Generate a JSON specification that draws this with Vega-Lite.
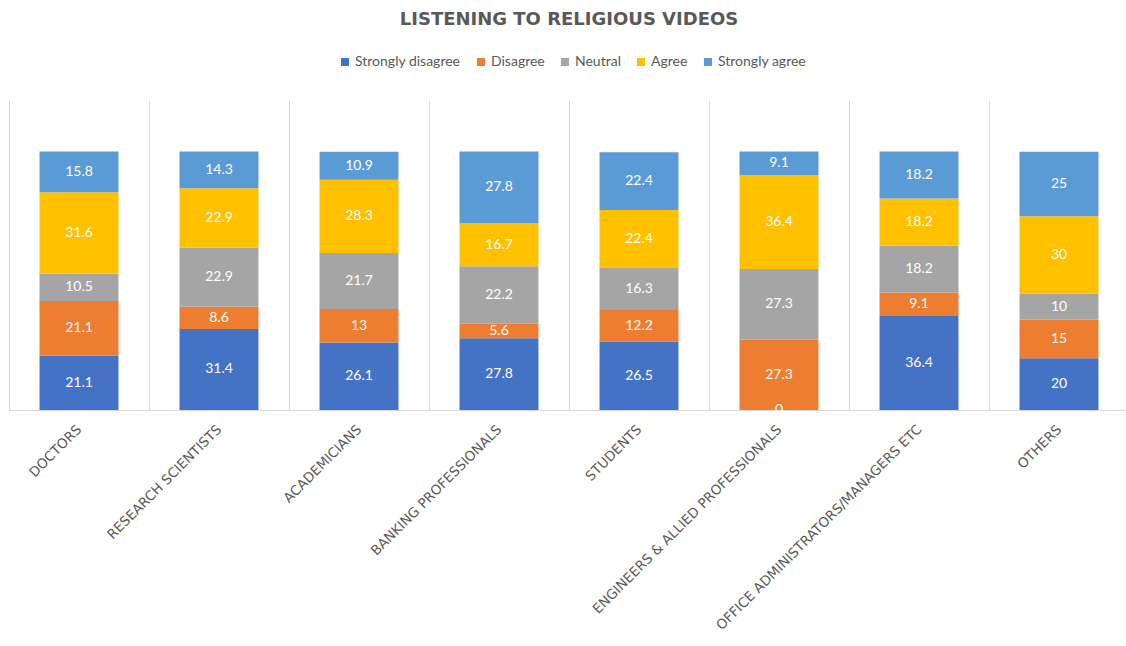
{
  "$schema": "https://vega.github.io/schema/vega-lite/v6.json",
  "autosize": {"type": "none"},
  "width": 1120,
  "height": 310,
  "padding": {"left": 9, "top": 100, "right": 0, "bottom": 236},
  "background": "white",
  "title": {
    "text": "LISTENING TO RELIGIOUS VIDEOS",
    "anchor": "middle",
    "frame": "group",
    "font": "DejaVu Sans",
    "fontSize": 18,
    "fontWeight": "bold",
    "color": "#595959",
    "offset": 26
  },
  "data": {
    "values": [
      {"group": "Doctors", "response": "Strongly disagree", "code": 1, "value": 21.1},
      {"group": "Doctors", "response": "Disagree", "code": 2, "value": 21.1},
      {"group": "Doctors", "response": "Neutral", "code": 3, "value": 10.5},
      {"group": "Doctors", "response": "Agree", "code": 4, "value": 31.6},
      {"group": "Doctors", "response": "Strongly agree", "code": 5, "value": 15.8},
      {"group": "Research Scientists", "response": "Strongly disagree", "code": 1, "value": 31.4},
      {"group": "Research Scientists", "response": "Disagree", "code": 2, "value": 8.6},
      {"group": "Research Scientists", "response": "Neutral", "code": 3, "value": 22.9},
      {"group": "Research Scientists", "response": "Agree", "code": 4, "value": 22.9},
      {"group": "Research Scientists", "response": "Strongly agree", "code": 5, "value": 14.3},
      {"group": "Academicians", "response": "Strongly disagree", "code": 1, "value": 26.1},
      {"group": "Academicians", "response": "Disagree", "code": 2, "value": 13},
      {"group": "Academicians", "response": "Neutral", "code": 3, "value": 21.7},
      {"group": "Academicians", "response": "Agree", "code": 4, "value": 28.3},
      {"group": "Academicians", "response": "Strongly agree", "code": 5, "value": 10.9},
      {"group": "Banking Professionals", "response": "Strongly disagree", "code": 1, "value": 27.8},
      {"group": "Banking Professionals", "response": "Disagree", "code": 2, "value": 5.6},
      {"group": "Banking Professionals", "response": "Neutral", "code": 3, "value": 22.2},
      {"group": "Banking Professionals", "response": "Agree", "code": 4, "value": 16.7},
      {"group": "Banking Professionals", "response": "Strongly agree", "code": 5, "value": 27.8},
      {"group": "Students", "response": "Strongly disagree", "code": 1, "value": 26.5},
      {"group": "Students", "response": "Disagree", "code": 2, "value": 12.2},
      {"group": "Students", "response": "Neutral", "code": 3, "value": 16.3},
      {"group": "Students", "response": "Agree", "code": 4, "value": 22.4},
      {"group": "Students", "response": "Strongly agree", "code": 5, "value": 22.4},
      {"group": "Engineers & Allied Professionals", "response": "Strongly disagree", "code": 1, "value": 0},
      {"group": "Engineers & Allied Professionals", "response": "Disagree", "code": 2, "value": 27.3},
      {"group": "Engineers & Allied Professionals", "response": "Neutral", "code": 3, "value": 27.3},
      {"group": "Engineers & Allied Professionals", "response": "Agree", "code": 4, "value": 36.4},
      {"group": "Engineers & Allied Professionals", "response": "Strongly agree", "code": 5, "value": 9.1},
      {"group": "Office Administrators/Managers  Etc", "response": "Strongly disagree", "code": 1, "value": 36.4},
      {"group": "Office Administrators/Managers  Etc", "response": "Disagree", "code": 2, "value": 9.1},
      {"group": "Office Administrators/Managers  Etc", "response": "Neutral", "code": 3, "value": 18.2},
      {"group": "Office Administrators/Managers  Etc", "response": "Agree", "code": 4, "value": 18.2},
      {"group": "Office Administrators/Managers  Etc", "response": "Strongly agree", "code": 5, "value": 18.2},
      {"group": "Others", "response": "Strongly disagree", "code": 1, "value": 20},
      {"group": "Others", "response": "Disagree", "code": 2, "value": 15},
      {"group": "Others", "response": "Neutral", "code": 3, "value": 10},
      {"group": "Others", "response": "Agree", "code": 4, "value": 30},
      {"group": "Others", "response": "Strongly agree", "code": 5, "value": 25}
    ]
  },
  "encoding": {
    "x": {
      "field": "group",
      "type": "nominal",
      "sort": null,
      "scale": {"paddingInner": 0, "paddingOuter": 0},
      "axis": {
        "title": null,
        "labelAngle": -45,
        "labelAlign": "right",
        "labelBaseline": "middle",
        "labelFont": "DejaVu Sans",
        "labelFontSize": 13.5,
        "labelColor": "#595959",
        "labelPadding": 17,
        "labelLimit": 500,
        "labelExpr": "upper(datum.label)",
        "ticks": false,
        "grid": true,
        "gridColor": "#D9D9D9",
        "domainColor": "#D9D9D9",
        "tickBand": "extent"
      }
    },
    "y": {
      "field": "value",
      "type": "quantitative",
      "stack": "zero",
      "scale": {"domain": [0, 120], "nice": false},
      "axis": null
    },
    "order": {"field": "code", "type": "quantitative", "sort": "ascending"}
  },
  "layer": [
    {
      "mark": {"type": "bar", "width": {"band": 0.564}},
      "encoding": {
        "color": {
          "field": "response",
          "type": "nominal",
          "sort": ["Strongly disagree", "Disagree", "Neutral", "Agree", "Strongly agree"],
          "scale": {
            "domain": ["Strongly disagree", "Disagree", "Neutral", "Agree", "Strongly agree"],
            "range": ["#4472C4", "#ED7D31", "#A5A5A5", "#FFC000", "#5B9BD5"]
          },
          "legend": {
            "orient": "none",
            "legendX": 329,
            "legendY": -45,
            "direction": "horizontal",
            "title": null,
            "symbolType": "square",
            "symbolSize": 64,
            "symbolStrokeWidth": 0,
            "labelFont": "Lato",
            "labelFontSize": 14,
            "labelColor": "#595959",
            "labelOffset": 3,
            "columnPadding": 13
          }
        }
      }
    },
    {
      "mark": {"type": "text", "font": "Lato", "fontSize": 14, "baseline": "middle", "align": "center", "color": "white"},
      "encoding": {
        "y": {"field": "value", "type": "quantitative", "stack": "zero", "bandPosition": 0.5},
        "detail": {"field": "response", "type": "nominal"},
        "text": {"field": "value", "type": "quantitative", "format": "~g"}
      }
    }
  ],
  "config": {"view": {"stroke": null}}
}
